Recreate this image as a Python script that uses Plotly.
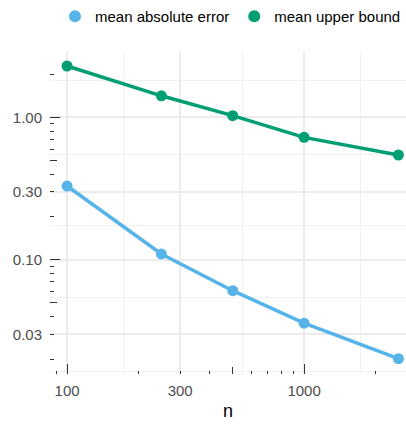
import plotly.graph_objects as go
import numpy as np

# ---- data ----
n_values = [100, 250, 500, 1000, 2500]
mean_abs_error = [0.33, 0.110, 0.0607, 0.0359, 0.0202]
mean_upper_bound = [2.30, 1.42, 1.03, 0.725, 0.545]
series_names = ["mean absolute error", "mean upper bound"]
series_colors = ["#56B4E9", "#009E73"]

x_tick_vals = [100, 300, 1000]
x_tick_text = ["100", "300", "1000"]
y_tick_vals = [0.03, 0.1, 0.3, 1.0]
y_tick_text = ["0.03", "0.10", "0.30", "1.00"]

# minor grid (midpoints in log space, as ggplot computes them)
x_minor_grid = [173.2, 547.7, 1732.0]
y_minor_grid = [0.01643, 0.05477, 0.1732, 0.5477, 1.826]

# log tick marks (annotation_logticks style)
x_long = [100, 1000]
x_mid = [500]
x_short = [90, 200, 300, 400, 600, 700, 800, 900, 2000]
y_long = [0.1, 1.0]
y_mid = [0.05, 0.5]
y_short = [0.02, 0.03, 0.04, 0.06, 0.07, 0.08, 0.09,
           0.2, 0.3, 0.4, 0.6, 0.7, 0.8, 0.9, 2.0]

x_range = [1.928, 3.430]
y_range = [-1.802, 0.467]

FONT = "Liberation Sans, Arial, Helvetica, sans-serif"

fig = go.Figure()
for name, vals, col in zip(series_names, [mean_abs_error, mean_upper_bound], series_colors):
    fig.add_trace(go.Scatter(x=n_values, y=vals, mode="lines",
                             line=dict(color=col, width=3.5),
                             showlegend=False, hoverinfo="skip"))
for name, vals, col in zip(series_names, [mean_abs_error, mean_upper_bound], series_colors):
    fig.add_trace(go.Scatter(x=n_values, y=vals, mode="markers", name=name,
                             marker=dict(color=col, size=11)))

# invisible traces to instantiate overlay axes for log ticks
for ax in ["x2", "x3", "x4"]:
    fig.add_trace(go.Scatter(x=[], y=[], xaxis=ax, yaxis="y", showlegend=False))
for ax in ["y2", "y3", "y4"]:
    fig.add_trace(go.Scatter(x=[], y=[], xaxis="x", yaxis=ax, showlegend=False))

tick_color = "#333333"

def xover(vals, length):
    return dict(type="log", range=x_range, overlaying="x", anchor="y", side="bottom",
                tickmode="array", tickvals=vals, ticks="inside", ticklen=length,
                tickwidth=1, tickcolor=tick_color, showticklabels=False,
                showgrid=False, zeroline=False, showline=False, fixedrange=True)

def yover(vals, length):
    return dict(type="log", range=y_range, overlaying="y", anchor="x", side="left",
                tickmode="array", tickvals=vals, ticks="inside", ticklen=length,
                tickwidth=1, tickcolor=tick_color, showticklabels=False,
                showgrid=False, zeroline=False, showline=False, fixedrange=True)

fig.update_layout(
    width=406, height=424,
    margin=dict(l=50, r=0, t=49, b=50),
    paper_bgcolor="white", plot_bgcolor="white",
    font=dict(family=FONT, size=15, color="#000000"),
    xaxis=dict(type="log", range=x_range, tickmode="array",
               tickvals=x_tick_vals, ticktext=x_tick_text,
               tickfont=dict(size=15, color="#4D4D4D"),
               ticks="", showline=False, zeroline=False,
               showgrid=True, gridcolor="#EBEBEB", gridwidth=1.5,
               minor=dict(tickmode="array", tickvals=x_minor_grid, showgrid=True,
                          gridcolor="#F1F1F1", gridwidth=1, ticks=""),
               title=dict(text="n", font=dict(size=18, color="#000000"), standoff=6),
               ticklabelstandoff=6),
    yaxis=dict(type="log", range=y_range, tickmode="array",
               tickvals=y_tick_vals, ticktext=y_tick_text,
               tickfont=dict(size=15, color="#4D4D4D"),
               ticks="", showline=False, zeroline=False,
               showgrid=True, gridcolor="#EBEBEB", gridwidth=1.5,
               minor=dict(tickmode="array", tickvals=y_minor_grid, showgrid=True,
                          gridcolor="#F1F1F1", gridwidth=1, ticks=""),
               ticklabelstandoff=7),
    xaxis2=xover(x_long, 10), xaxis3=xover(x_mid, 7), xaxis4=xover(x_short, 3.5),
    yaxis2=yover(y_long, 10), yaxis3=yover(y_mid, 7), yaxis4=yover(y_short, 3.5),
    legend=dict(orientation="h", x=0.022, xanchor="left", y=1.108, yanchor="middle",
                font=dict(size=15, color="#000000"), bgcolor="rgba(0,0,0,0)",
                itemsizing="constant"),
    hovermode=False,
)

fig.write_html("out.html")
